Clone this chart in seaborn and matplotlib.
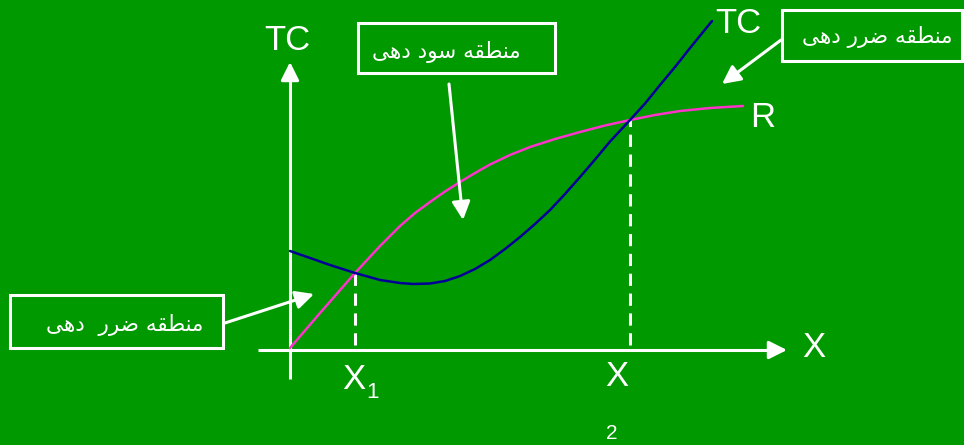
import matplotlib
matplotlib.use("Agg")
import matplotlib.pyplot as plt
import seaborn as sns
from matplotlib.patches import Rectangle

# ---------------- data (origin of the diagram at the axes crossing) ----------------
r_x = [0, 30, 65, 90, 110, 125, 140, 155, 170, 185, 200, 220, 240, 265, 290,
       315, 340, 365, 390, 420, 453]
r_y = [2, 37, 77, 104, 124, 137, 148, 158.5, 168, 177, 185.5, 195, 203, 211,
       218, 224.5, 230, 235, 239, 242, 244]

tc_x = [0, 20, 40, 65, 90, 110, 123, 140, 155, 170, 185, 200, 215, 230, 245,
        260, 275, 290, 305, 320, 340, 355, 370, 385, 400, 422]
tc_y = [99, 92, 85, 77, 70, 67, 66, 66.5, 69, 74, 81, 90, 101, 113, 126,
        140, 156, 173, 190.5, 208.5, 230, 246.5, 265, 283, 302, 329]

x1_pos = 65     # first break-even quantity
x2_pos = 340    # second break-even quantity
x1_val = 77     # R = TC at x1
x2_val = 230    # R = TC at x2

profit_label = "منطقه سود دهی"
loss_label_top = "منطقه ضرر دهی"
loss_label_left = "منطقه ضرر  دهی"

# ---------------- minimal Arabic/Persian shaping for matplotlib ----------------
FORMS = {
    "م": ("\uFEE1", "\uFEE2", "\uFEE3", "\uFEE4"),
    "ن": ("\uFEE5", "\uFEE6", "\uFEE7", "\uFEE8"),
    "ط": ("\uFEC1", "\uFEC2", "\uFEC3", "\uFEC4"),
    "ق": ("\uFED5", "\uFED6", "\uFED7", "\uFED8"),
    "ه": ("\uFEE9", "\uFEEA", "\uFEEB", "\uFEEC"),
    "س": ("\uFEB1", "\uFEB2", "\uFEB3", "\uFEB4"),
    "ض": ("\uFEBD", "\uFEBE", "\uFEBF", "\uFEC0"),
    "ی": ("\uFBFC", "\uFBFD", "\uFBFE", "\uFBFF"),
    "و": ("\uFEED", "\uFEEE", "\uFEED", "\uFEEE"),
    "د": ("\uFEA9", "\uFEAA", "\uFEA9", "\uFEAA"),
    "ر": ("\uFEAD", "\uFEAE", "\uFEAD", "\uFEAE"),
}
RIGHT_ONLY = set("ودر")


def shape(s):
    out = []
    for i, c in enumerate(s):
        if c not in FORMS:
            out.append(c)
            continue
        prev = s[i - 1] if i > 0 else None
        nxt = s[i + 1] if i + 1 < len(s) else None
        jp = prev in FORMS and prev not in RIGHT_ONLY
        jn = nxt in FORMS and c not in RIGHT_ONLY
        iso, fin, ini, med = FORMS[c]
        if jp and jn:
            out.append(med)
        elif jp:
            out.append(fin)
        elif jn:
            out.append(ini)
        else:
            out.append(iso)
    return "".join(reversed(out))


# ---------------- figure ----------------
GREEN = "#009900"
sns.set_style("white")
plt.rcParams["font.family"] = ["Liberation Sans", "DejaVu Sans"]

fig = plt.figure(figsize=(9.64, 4.45), dpi=100, facecolor=GREEN)
ax = fig.add_axes([0, 0, 1, 1])
ax.set_facecolor(GREEN)
ax.set_xlim(-290, 674)
ax.set_ylim(-95, 350)
ax.axis("off")

W = "white"
arrow_kw = dict(arrowstyle="-|>,head_length=1.0,head_width=0.5", color=W,
                lw=2.2, shrinkA=0, shrinkB=0, mutation_scale=11)

# axes with arrows
ax.plot([0, 0], [-29, 280], color=W, lw=2.2, solid_capstyle="butt")
ax.annotate("", xy=(0, 288), xytext=(0, 270), arrowprops=arrow_kw)
ax.plot([-32, 485], [0, 0], color=W, lw=2.2, solid_capstyle="butt")
ax.annotate("", xy=(497, 0), xytext=(480, 0), arrowprops=arrow_kw)

# dashed drop lines
ax.plot([x1_pos, x1_pos], [5, x1_val], color=W, lw=2.2, ls=(0, (4, 2.5)))
ax.plot([x2_pos, x2_pos], [5, x2_val], color=W, lw=2.2, ls=(0, (4, 2.5)))

# curves
sns.lineplot(x=r_x, y=r_y, sort=False, color="#ff33cc", lw=1.8, ax=ax,
             estimator=None)
sns.lineplot(x=tc_x, y=tc_y, sort=False, color="#000099", lw=1.8, ax=ax,
             estimator=None)

# labels
big = dict(color=W, fontsize=25, ha="center", va="baseline")
ax.text(-3, 300, "TC", **big)
ax.text(448, 317, "TC", **big)
ax.text(473, 223, "R", **big)
ax.text(524, -7, "X", **big)
ax.text(327, -36, "X", **big)
ax.text(64, -39, "X", **big)
ax.text(82.5, -48, "1", color=W, fontsize=16, ha="center", va="baseline")
ax.text(322, -89, "2", color=W, fontsize=15, ha="center", va="baseline")

# boxes with Persian text
boxes = [
    ((68, 277), 197, 50, profit_label, (156, 298)),
    ((492, 289), 180, 51, loss_label_top, (587, 313)),
    ((-280, 2), 213, 53, loss_label_left, (-165, 25)),
]
for (bx, by), bw, bh, lab, (tx, ty) in boxes:
    ax.add_patch(Rectangle((bx, by), bw, bh, fill=False, ec=W, lw=2.2))
    ax.text(tx, ty, shape(lab), color=W, fontsize=15.5, ha="center",
            va="center", family=["DejaVu Sans"])

# pointer arrows
ax.annotate("", xy=(173, 130), xytext=(159, 266), arrowprops=arrow_kw)
ax.annotate("", xy=(432, 266), xytext=(491, 310), arrowprops=arrow_kw)
ax.annotate("", xy=(24, 56), xytext=(-65, 27), arrowprops=arrow_kw)

fig.savefig("out.png", dpi=100, facecolor=GREEN)
